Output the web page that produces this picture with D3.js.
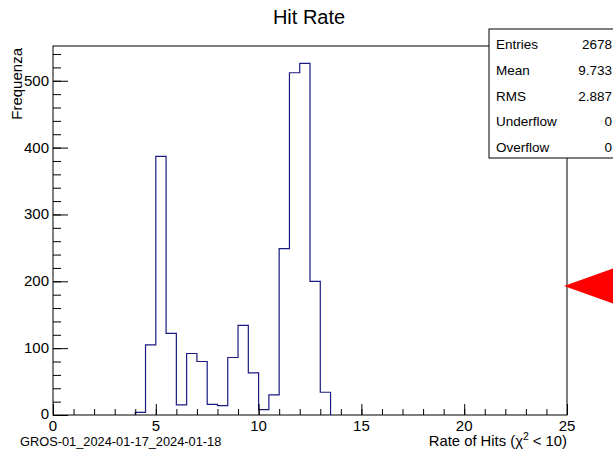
<!DOCTYPE html>
<html>
<head>
<meta charset="utf-8">
<script src="https://cdn.jsdelivr.net/npm/d3@7"></script>
<style>
  html, body { margin: 0; padding: 0; background: #fff; }
  svg { display: block; font-family: "Liberation Sans", Arial, Helvetica, sans-serif; }
</style>
</head>
<body>
<svg id="chart" width="613" height="450"></svg>
<script>
// Histogram bins (width 0.5) and counts
const binLow = [4.0, 4.5, 5.0, 5.5, 6.0, 6.5, 7.0, 7.5, 8.0, 8.5, 9.0, 9.5, 10.0, 10.5, 11.0, 11.5, 12.0, 12.5, 13.0];
const binWidth = 0.5;
const counts = [4, 105, 387, 122, 15, 92, 80, 16, 14, 86, 134, 63, 8, 30, 249, 512, 526, 200, 34];

// Axis ranges and tick values
const xDomain = [0, 25];
const yDomain = [0, 552];
const xMajorTicks = [0, 5, 10, 15, 20, 25];
const xMinorTicks = d3.range(0, 26, 1);
const yMajorTicks = [0, 100, 200, 300, 400, 500];
const yMinorTicks = d3.range(0, 552, 20);

// Statistics panel
const statNames = ["Entries", "Mean", "RMS", "Underflow", "Overflow"];
const statValues = ["2678", "9.733", "2.887", "0", "0"];

// Marker level on the right axis
const markerLevel = 193;

const svg = d3.select("#chart");
const frame = { left: 53, right: 567, top: 46, bottom: 415 };

const x = d3.scaleLinear().domain(xDomain).range([frame.left, frame.right]);
const y = d3.scaleLinear().domain(yDomain).range([frame.bottom, frame.top]);

// Title
svg.append("text")
  .attr("x", 309).attr("y", 24)
  .attr("text-anchor", "middle")
  .attr("font-size", 20)
  .text("Hit Rate");

// Frame
svg.append("rect")
  .attr("x", frame.left).attr("y", frame.top)
  .attr("width", frame.right - frame.left)
  .attr("height", frame.bottom - frame.top)
  .attr("fill", "none")
  .attr("stroke", "#000")
  .attr("stroke-width", 1);

// Histogram outline (step line)
const pts = [];
pts.push([x(binLow[0]), y(0)]);
binLow.forEach((lo, i) => {
  pts.push([x(lo), y(counts[i])]);
  pts.push([x(lo + binWidth), y(counts[i])]);
});
pts.push([x(binLow[binLow.length - 1] + binWidth), y(0)]);
svg.append("path")
  .attr("d", d3.line()(pts))
  .attr("fill", "none")
  .attr("stroke", "#1a1a80")
  .attr("stroke-width", 1.2);

// X axis: ticks pointing up into the frame
const xAxisMinor = d3.axisTop(x).tickValues(xMinorTicks).tickSize(6).tickFormat("");
const xAxisMajor = d3.axisTop(x).tickValues(xMajorTicks).tickSize(11).tickFormat("");
[xAxisMinor, xAxisMajor].forEach(ax => {
  const g = svg.append("g").attr("transform", `translate(0,${frame.bottom})`).call(ax);
  g.select(".domain").remove();
  g.selectAll("line").attr("stroke", "#000");
});
svg.append("g").selectAll("text").data(xMajorTicks).join("text")
  .attr("x", d => x(d)).attr("y", 431)
  .attr("text-anchor", "middle")
  .attr("font-size", 15)
  .text(d => d);

// Y axis: ticks pointing right into the frame
const yAxisMinor = d3.axisRight(y).tickValues(yMinorTicks).tickSize(8).tickFormat("");
const yAxisMajor = d3.axisRight(y).tickValues(yMajorTicks).tickSize(15).tickFormat("");
[yAxisMinor, yAxisMajor].forEach(ax => {
  const g = svg.append("g").attr("transform", `translate(${frame.left},0)`).call(ax);
  g.select(".domain").remove();
  g.selectAll("line").attr("stroke", "#000");
});
svg.append("g").selectAll("text").data(yMajorTicks).join("text")
  .attr("x", 49).attr("y", d => d === 0 ? y(d) + 4 : y(d) + 5)
  .attr("text-anchor", "end")
  .attr("font-size", 15)
  .text(d => d);

// Axis titles
svg.append("text")
  .attr("transform", "translate(22,48) rotate(-90)")
  .attr("text-anchor", "end")
  .attr("font-size", 15)
  .text("Frequenza");

const xt = svg.append("text")
  .attr("x", 567).attr("y", 446)
  .attr("text-anchor", "end")
  .attr("font-size", 14.8);
xt.append("tspan").text("Rate of Hits (χ");
xt.append("tspan").attr("dy", -6).attr("font-size", 10.5).text("2");
xt.append("tspan").attr("dy", 6).text(" < 10)");

svg.append("text")
  .attr("x", 20).attr("y", 446)
  .attr("font-size", 12.8)
  .text("GROS-01_2024-01-17_2024-01-18");

// Statistics panel
const box = { x: 489, y: 29, w: 130, h: 129 };
svg.append("rect")
  .attr("x", box.x).attr("y", box.y)
  .attr("width", box.w).attr("height", box.h)
  .attr("fill", "#fff")
  .attr("stroke", "#000")
  .attr("stroke-width", 1);
const rowH = box.h / statNames.length;
statNames.forEach((name, i) => {
  const cy = box.y + rowH * (i + 0.5) + 7;
  svg.append("text").attr("x", 496).attr("y", cy)
    .attr("font-size", 13.5).text(name);
  svg.append("text").attr("x", 612).attr("y", cy)
    .attr("text-anchor", "end")
    .attr("font-size", 13.5).text(statValues[i]);
});

// Red marker on the right axis
const my = y(markerLevel);
svg.append("path")
  .attr("d", d3.line()([[frame.right - 3, my], [frame.right + 50, my - 19], [frame.right + 50, my + 19]]) + "Z")
  .attr("fill", "#ff0000");
</script>
</body>
</html>
